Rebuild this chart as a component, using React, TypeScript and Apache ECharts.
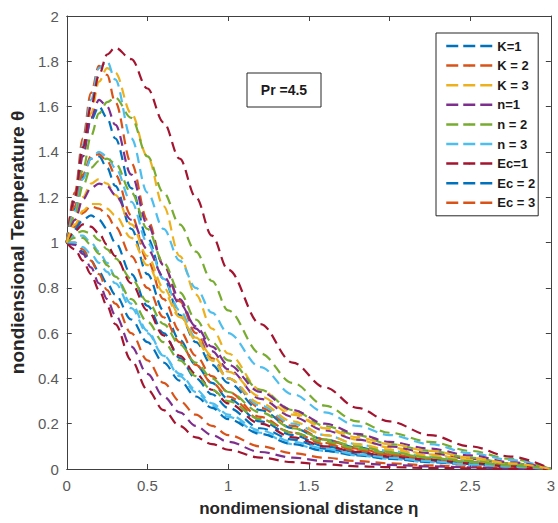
import React, { useEffect, useRef } from "react";
import * as echarts from "echarts";

// eta grid
const eta = [0, 0.05, 0.1, 0.15, 0.2, 0.25, 0.3, 0.4, 0.5, 0.6, 0.7, 0.8, 0.9, 1.0, 1.2, 1.4, 1.6, 1.8, 2.0, 2.25, 2.5, 2.75, 3.0];

// legend-named curves
const thetaK1 = [1, 1.2, 1.4, 1.54, 1.6, 1.55, 1.46, 1.24, 1.02, 0.84, 0.68, 0.56, 0.46, 0.38, 0.26, 0.18, 0.13, 0.095, 0.07, 0.045, 0.03, 0.015, 0];
const thetaK2 = [1, 1.22, 1.46, 1.66, 1.78, 1.74, 1.62, 1.35, 1.1, 0.9, 0.74, 0.6, 0.49, 0.4, 0.27, 0.19, 0.13, 0.09, 0.065, 0.04, 0.025, 0.012, 0];
const thetaK3 = [1, 1.18, 1.38, 1.57, 1.71, 1.77, 1.75, 1.57, 1.38, 1.16, 0.94, 0.77, 0.62, 0.51, 0.35, 0.25, 0.18, 0.13, 0.095, 0.065, 0.04, 0.02, 0];
const thetaN1 = [1, 1.18, 1.38, 1.55, 1.63, 1.6, 1.52, 1.3, 1.08, 0.9, 0.75, 0.62, 0.52, 0.44, 0.31, 0.23, 0.17, 0.13, 0.1, 0.07, 0.045, 0.025, 0];
const thetaN2 = [1, 1.15, 1.32, 1.47, 1.57, 1.62, 1.64, 1.55, 1.38, 1.22, 1.08, 0.96, 0.83, 0.7, 0.51, 0.38, 0.28, 0.21, 0.16, 0.12, 0.08, 0.045, 0];
const thetaN3 = [1, 1.2, 1.43, 1.63, 1.77, 1.8, 1.72, 1.46, 1.22, 1.06, 0.92, 0.8, 0.69, 0.6, 0.45, 0.33, 0.25, 0.19, 0.15, 0.11, 0.07, 0.04, 0];
const thetaEc1 = [1, 1.2, 1.42, 1.6, 1.74, 1.83, 1.86, 1.81, 1.68, 1.53, 1.37, 1.2, 1.03, 0.88, 0.64, 0.47, 0.36, 0.27, 0.21, 0.15, 0.1, 0.055, 0];
const thetaEc2 = [1, 1.15, 1.29, 1.37, 1.38, 1.33, 1.25, 1.06, 0.86, 0.7, 0.57, 0.46, 0.38, 0.31, 0.21, 0.15, 0.1, 0.075, 0.055, 0.035, 0.02, 0.01, 0];
const thetaEc3 = [1, 1.16, 1.3, 1.38, 1.39, 1.36, 1.3, 1.12, 0.92, 0.75, 0.61, 0.5, 0.41, 0.34, 0.23, 0.16, 0.11, 0.08, 0.06, 0.04, 0.025, 0.012, 0];

// other plotted curves (no legend entry)
const extra1 = [1, 1.14, 1.28, 1.37, 1.4, 1.38, 1.33, 1.18, 1.0, 0.84, 0.7, 0.58, 0.48, 0.4, 0.28, 0.2, 0.15, 0.11, 0.08, 0.055, 0.035, 0.018, 0];
const extra2 = [1, 1.12, 1.25, 1.33, 1.36, 1.37, 1.35, 1.22, 1.06, 0.91, 0.78, 0.66, 0.56, 0.48, 0.35, 0.26, 0.19, 0.15, 0.11, 0.08, 0.05, 0.025, 0];
const extra3 = [1, 1.1, 1.2, 1.26, 1.28, 1.26, 1.21, 1.08, 0.94, 0.8, 0.68, 0.57, 0.48, 0.4, 0.29, 0.21, 0.15, 0.11, 0.085, 0.06, 0.04, 0.02, 0];
const extra4 = [1, 1.1, 1.19, 1.24, 1.26, 1.25, 1.21, 1.1, 0.97, 0.85, 0.73, 0.63, 0.54, 0.46, 0.34, 0.26, 0.2, 0.155, 0.12, 0.09, 0.06, 0.03, 0];
const extra5 = [1, 1.07, 1.13, 1.16, 1.15, 1.12, 1.07, 0.94, 0.8, 0.67, 0.56, 0.46, 0.38, 0.32, 0.22, 0.16, 0.115, 0.085, 0.065, 0.045, 0.03, 0.015, 0];
const extra6 = [1, 1.06, 1.1, 1.12, 1.1, 1.06, 1.0, 0.86, 0.72, 0.6, 0.49, 0.4, 0.33, 0.27, 0.18, 0.13, 0.09, 0.065, 0.05, 0.035, 0.022, 0.01, 0];
const extra7 = [1, 1.04, 1.05, 1.04, 1.01, 0.97, 0.93, 0.84, 0.74, 0.64, 0.55, 0.47, 0.4, 0.34, 0.25, 0.18, 0.13, 0.1, 0.075, 0.05, 0.035, 0.018, 0];
const extra8 = [1, 1.03, 1.03, 1.0, 0.96, 0.91, 0.85, 0.73, 0.61, 0.5, 0.41, 0.34, 0.28, 0.23, 0.16, 0.11, 0.08, 0.06, 0.045, 0.03, 0.02, 0.01, 0];
const extra9 = [1, 1.05, 1.08, 1.07, 1.04, 0.99, 0.94, 0.82, 0.7, 0.59, 0.5, 0.42, 0.35, 0.29, 0.2, 0.14, 0.1, 0.075, 0.055, 0.04, 0.025, 0.012, 0];
const extra10 = [1, 0.99, 0.96, 0.92, 0.87, 0.82, 0.77, 0.66, 0.56, 0.47, 0.39, 0.32, 0.27, 0.22, 0.155, 0.11, 0.08, 0.06, 0.045, 0.03, 0.02, 0.01, 0];
const extra11 = [1, 1.0, 0.97, 0.92, 0.86, 0.79, 0.73, 0.6, 0.48, 0.38, 0.3, 0.24, 0.19, 0.15, 0.1, 0.07, 0.05, 0.035, 0.025, 0.016, 0.01, 0.005, 0];
const extra12 = [1, 0.99, 0.95, 0.89, 0.82, 0.75, 0.68, 0.54, 0.42, 0.32, 0.25, 0.19, 0.15, 0.12, 0.075, 0.05, 0.035, 0.025, 0.018, 0.012, 0.007, 0.003, 0];
const extra13 = [1, 0.97, 0.92, 0.86, 0.79, 0.72, 0.64, 0.48, 0.35, 0.26, 0.19, 0.14, 0.11, 0.085, 0.05, 0.03, 0.02, 0.012, 0.008, 0.005, 0.003, 0.001, 0];
const extra14 = [1, 1.0, 0.98, 0.95, 0.91, 0.87, 0.82, 0.71, 0.6, 0.5, 0.42, 0.35, 0.29, 0.24, 0.17, 0.12, 0.09, 0.065, 0.05, 0.035, 0.02, 0.01, 0];
const extra15 = [1, 1.02, 1.02, 0.99, 0.95, 0.9, 0.85, 0.75, 0.65, 0.56, 0.48, 0.41, 0.35, 0.3, 0.22, 0.16, 0.12, 0.09, 0.07, 0.05, 0.03, 0.015, 0];
const extra16 = [1, 1.08, 1.14, 1.17, 1.17, 1.15, 1.12, 1.02, 0.9, 0.78, 0.67, 0.58, 0.5, 0.43, 0.32, 0.24, 0.18, 0.14, 0.11, 0.08, 0.05, 0.025, 0];

const xTicks = [0, 0.5, 1, 1.5, 2, 2.5, 3];
const yTicks = [0, 0.2, 0.4, 0.6, 0.8, 1, 1.2, 1.4, 1.6, 1.8, 2];

const BLUE = "#0072BD", ORANGE = "#D95319", YELLOW = "#EDB120", PURPLE = "#7E2F8E",
  GREEN = "#77AC30", CYAN = "#4DBEEE", DARKRED = "#A2142F";

const legendNames = ["K=1", "K = 2", "K = 3", "n=1", "n = 2", "n = 3", "Ec=1", "Ec = 2", "Ec = 3"];

const curves: [string, string, number[]][] = [
  ["K=1", BLUE, thetaK1],
  ["K = 2", ORANGE, thetaK2],
  ["K = 3", YELLOW, thetaK3],
  ["n=1", PURPLE, thetaN1],
  ["n = 2", GREEN, thetaN2],
  ["n = 3", CYAN, thetaN3],
  ["Ec=1", DARKRED, thetaEc1],
  ["Ec = 2", BLUE, thetaEc2],
  ["Ec = 3", ORANGE, thetaEc3],
  ["c1", CYAN, extra1],
  ["c2", GREEN, extra2],
  ["c3", YELLOW, extra3],
  ["c4", PURPLE, extra4],
  ["c5", ORANGE, extra5],
  ["c6", BLUE, extra6],
  ["c7", GREEN, extra7],
  ["c8", CYAN, extra8],
  ["c9", DARKRED, extra9],
  ["c10", BLUE, extra10],
  ["c11", ORANGE, extra11],
  ["c12", PURPLE, extra12],
  ["c13", DARKRED, extra13],
  ["c14", CYAN, extra14],
  ["c15", GREEN, extra15],
  ["c16", YELLOW, extra16],
];

export default function App() {
  const ref = useRef<HTMLDivElement>(null);
  useEffect(() => {
    if (!ref.current) return;
    const chart = echarts.init(ref.current, null, { renderer: "svg" });
    const axisCol = "#404040";
    const font = "'Liberation Sans', Arial, sans-serif";
    const series: any[] = curves.map(([name, color, ys]) => ({
      name,
      type: "line",
      data: eta.map((x, i) => [x, ys[i]]),
      smooth: 0.35,
      smoothMonotone: "x",
      symbol: "circle",
      symbolSize: 0,
      showSymbol: false,
      color,
      itemStyle: { color },
      lineStyle: { color, width: 2.2, type: [10, 6] },
      z: 2,
    }));
    chart.setOption({
      animation: false,
      backgroundColor: "#ffffff",
      grid: { left: 58, right: 5, top: 16, bottom: 54 },
      legend: {
        data: legendNames,
        orient: "vertical",
        left: 436,
        top: 33,
        itemWidth: 46,
        itemHeight: 2,
        itemGap: 5.6,
        padding: [6, 3, 6, 9],
        backgroundColor: "#ffffff",
        borderColor: "#262626",
        borderWidth: 1,
        lineStyle: { width: 2.5, type: [12, 5] },
        textStyle: { fontFamily: font, fontWeight: "bold", fontSize: 13, lineHeight: 14, color: "#1a1a1a" },
        selectedMode: false,
      },
      xAxis: [
        {
          type: "value",
          min: 0,
          max: 3,
          interval: 0.5,
          name: "nondimensional distance η",
          nameLocation: "middle",
          nameGap: 31,
          nameTextStyle: { fontFamily: font, fontWeight: "bold", fontSize: 17, color: "#262626" },
          axisLine: { show: true, lineStyle: { color: axisCol, width: 1 } },
          axisTick: { show: true, inside: true, length: 5, lineStyle: { color: axisCol } },
          axisLabel: {
            fontFamily: font,
            fontSize: 15,
            color: "#595959",
            margin: 9,
            formatter: (v: number) => (xTicks.includes(v) ? String(v) : ""),
          },
          splitLine: { show: false },
        },
        {
          type: "value",
          position: "top",
          min: 0,
          max: 3,
          interval: 0.5,
          axisLine: { show: true, onZero: false, lineStyle: { color: axisCol, width: 1 } },
          axisTick: { show: true, inside: true, length: 5, lineStyle: { color: axisCol } },
          axisLabel: { show: false },
          splitLine: { show: false },
        },
      ],
      yAxis: [
        {
          type: "value",
          min: 0,
          max: 2,
          interval: 0.2,
          name: "nondiensional Temperature θ",
          nameLocation: "middle",
          nameGap: 38,
          nameTextStyle: { fontFamily: font, fontWeight: "bold", fontSize: 19, color: "#262626" },
          axisLine: { show: true, lineStyle: { color: axisCol, width: 1 } },
          axisTick: { show: true, inside: true, length: 5, lineStyle: { color: axisCol } },
          axisLabel: {
            fontFamily: font,
            fontSize: 15,
            color: "#595959",
            margin: 8,
            formatter: (v: number) => {
              const t = yTicks.find((k) => Math.abs(k - v) < 1e-6);
              return t === undefined ? "" : String(t);
            },
          },
          splitLine: { show: false },
        },
        {
          type: "value",
          position: "right",
          min: 0,
          max: 2,
          interval: 0.2,
          axisLine: { show: true, onZero: false, lineStyle: { color: axisCol, width: 1 } },
          axisTick: { show: true, inside: true, length: 5, lineStyle: { color: axisCol } },
          axisLabel: { show: false },
          splitLine: { show: false },
        },
      ],
      graphic: [
        {
          type: "rect",
          shape: { x: 247, y: 73, width: 74, height: 34 },
          style: { fill: "#ffffff", stroke: "#262626", lineWidth: 1 },
          z: 10,
        },
        {
          type: "text",
          x: 284,
          y: 90,
          style: {
            text: "Pr =4.5",
            fontFamily: font,
            fontWeight: "bold",
            fontSize: 14,
            fill: "#1a1a1a",
            align: "center",
            verticalAlign: "middle",
          },
          z: 11,
        },
      ],
      series,
    });
    return () => chart.dispose();
  }, []);
  return <div ref={ref} style={{ position: "fixed", left: 0, top: 0, width: 558, height: 523 }} />;
}
